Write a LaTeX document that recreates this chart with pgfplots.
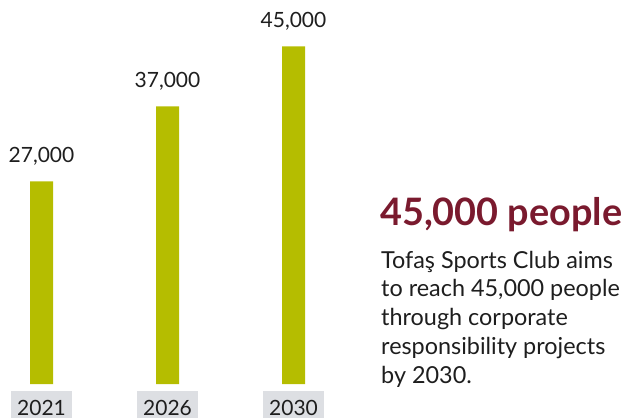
\documentclass[border=0pt]{standalone}
\usepackage{pgfplots}
\pgfplotsset{compat=1.18}
\usepackage{fontspec}
\setmainfont{Lato}
\definecolor{barolive}{RGB}{181,189,0}
\definecolor{tickbox}{RGB}{221,223,227}
\definecolor{burgundy}{RGB}{122,26,46}
\definecolor{ink}{RGB}{30,30,30}

\begin{document}
\begin{tikzpicture}
\useasboundingbox (0,0) rectangle (626pt,418pt);
\begin{axis}[
  at={(0,0)}, anchor=south west,
  scale only axis, width=626pt, height=418pt,
  xmin=-0.32937, xmax=4.6389, ymin=-4533.3, ymax=51200,
  ybar, bar width=23pt,
  hide y axis,
  axis x line*=bottom, x axis line style={draw=none},
  xtick style={draw=none}, major tick length=0pt,
  xtick=data, xticklabels={2021,2026,2030},
  xticklabel style={font=\fontsize{21}{21}\selectfont, text=ink, fill=tickbox,
    anchor=base, inner xsep=0pt, inner ysep=0pt, minimum width=61pt,
    text height=24pt, text depth=3pt, yshift=3pt},
  /pgf/number format/assume math mode=true,
  /pgf/number format/1000 sep={,},
  nodes near coords,
  every node near coord/.append style={font=\fontsize{21}{21}\selectfont,
    text=ink, anchor=base, yshift=19pt},
]
\addplot[fill=barolive, draw=none] coordinates {(0,27000) (1,37000) (2,45000)};
\end{axis}
\node[anchor=base west, text=burgundy, font=\bfseries\fontsize{37.8}{37.8}\selectfont, inner sep=0pt]
  at (380pt,193pt) {45,000 people};
\node[anchor=base west, align=left, text=ink, font=\fontsize{23.4}{28.75}\selectfont, inner sep=0pt]
  at (381pt,35pt) {Tofaş Sports Club aims\\to reach 45,000 people\\through corporate\\responsibility projects\\by 2030.};
\end{tikzpicture}
\end{document}
